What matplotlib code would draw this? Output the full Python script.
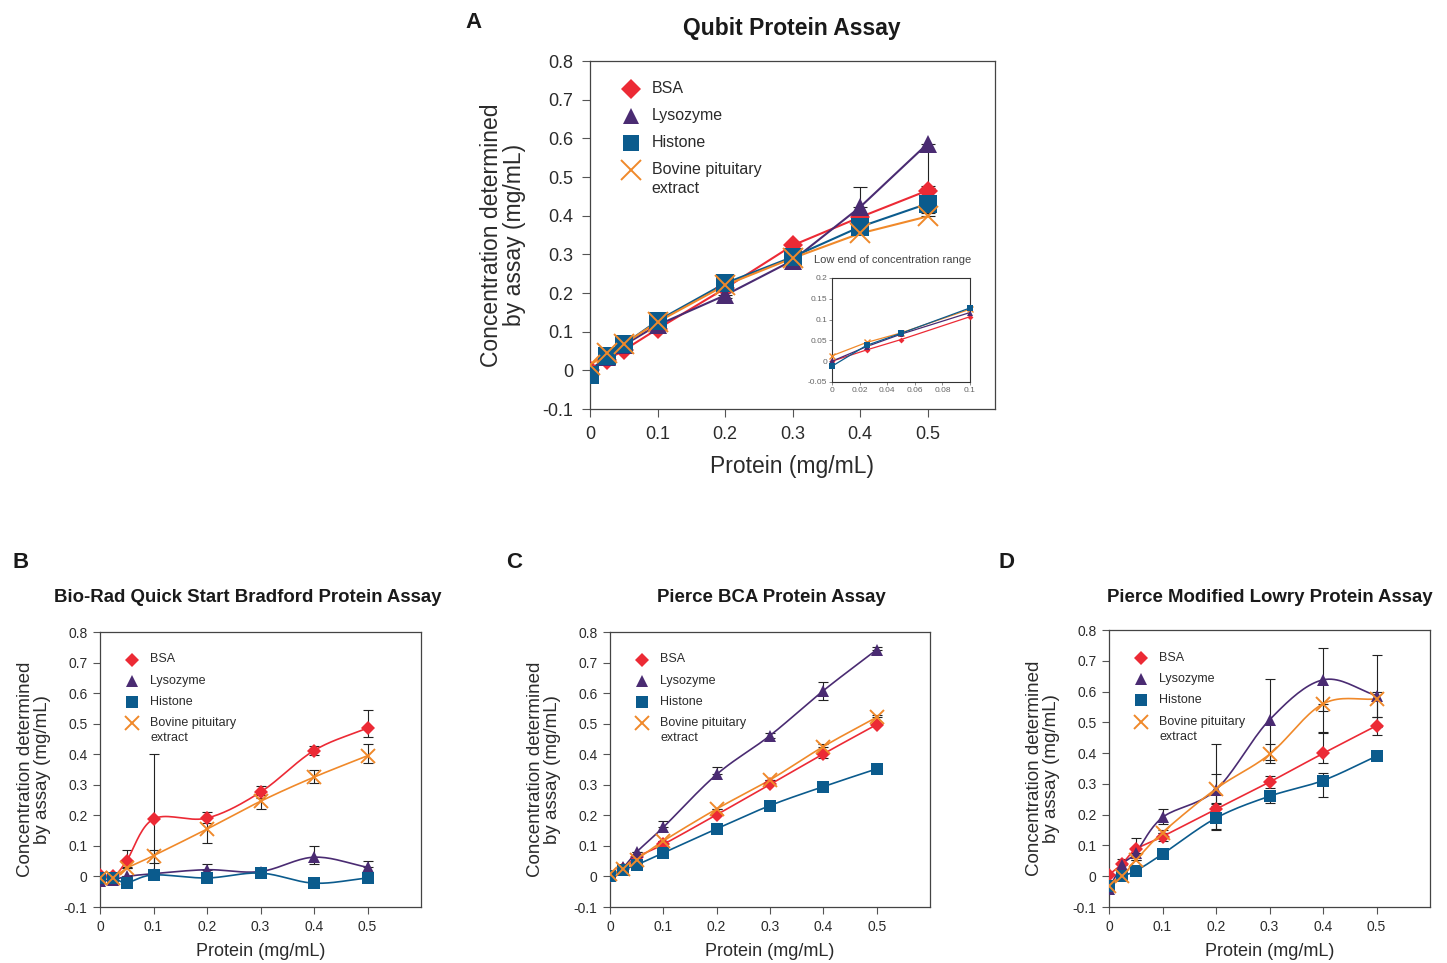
import numpy as np
import matplotlib
matplotlib.use('Agg')
import matplotlib.pyplot as plt

plt.rcParams['font.family'] = ['Liberation Sans', 'DejaVu Sans']

W, H = 1447, 963

# protein amounts loaded (mg/mL)
conc = [0, 0.025, 0.05, 0.1, 0.2, 0.3, 0.4, 0.5]
names = ['BSA', 'Lysozyme', 'Histone', 'Bovine pituitary\nextract']
colors = ['#ec2a35', '#4a2b72', '#0b5b8d', '#f0892a']
markers = ['D', '^', 's', 'x']
msize = {'D': 0.82, '^': 1.0, 's': 1.0, 'x': 1.15}

# ---- A: Qubit
qubit_bsa = [0.0, 0.027, 0.052, 0.107, 0.212, 0.323, 0.396, 0.465]
qubit_lys = [0.0, 0.035, 0.065, 0.117, 0.194, 0.284, 0.422, 0.586]
qubit_his = [-0.012, 0.038, 0.067, 0.128, 0.225, 0.293, 0.371, 0.431]
qubit_bpe = [0.013, 0.045, 0.068, 0.125, 0.220, 0.290, 0.354, 0.398]
# (lower, upper) error
qubit_bsa_err = ([0, 0, 0, 0, 0, 0, 0, 0.0], [0, 0, 0, 0, 0, 0.008, 0, 0.012])
qubit_lys_err = ([0, 0, 0, 0, 0.008, 0, 0, 0.115], [0, 0, 0, 0, 0, 0, 0.052, 0])
qubit_his_err = ([0, 0, 0, 0, 0, 0, 0, 0], [0, 0, 0, 0, 0, 0, 0, 0.01])
qubit_bpe_err = ([0, 0, 0, 0, 0, 0, 0, 0], [0, 0, 0, 0, 0, 0, 0, 0.008])

# ---- B: Bradford
brad_bsa = [0.005, 0.0, 0.052, 0.188, 0.191, 0.276, 0.412, 0.486]
brad_lys = [-0.016, -0.011, 0.0, 0.009, 0.022, 0.016, 0.063, 0.03]
brad_his = [-0.005, -0.005, -0.02, 0.005, -0.005, 0.011, -0.022, -0.005]
brad_bpe = [-0.005, -0.005, 0.027, 0.068, 0.155, 0.246, 0.325, 0.395]
brad_bsa_err = ([0, 0, 0.02, 0.17, 0.016, 0.02, 0.014, 0.03], [0, 0, 0.035, 0.212, 0.019, 0.021, 0.016, 0.06])
brad_lys_err = ([0, 0, 0, 0, 0, 0, 0.023, 0], [0, 0, 0, 0, 0.018, 0, 0.037, 0.021])
brad_his_err = ([0, 0, 0, 0, 0, 0.01, 0.008, 0], [0, 0, 0, 0, 0, 0, 0.0, 0])
brad_bpe_err = ([0, 0, 0, 0.024, 0.044, 0.024, 0.019, 0.025], [0, 0, 0, 0.019, 0.04, 0.02, 0.022, 0.04])

# ---- C: BCA
bca_bsa = [0.003, 0.025, 0.063, 0.105, 0.202, 0.301, 0.401, 0.497]
bca_lys = [0.003, 0.03, 0.08, 0.161, 0.334, 0.461, 0.608, 0.742]
bca_his = [0.003, 0.022, 0.038, 0.077, 0.156, 0.232, 0.294, 0.352]
bca_bpe = [0.007, 0.025, 0.055, 0.116, 0.221, 0.316, 0.425, 0.521]
bca_bsa_err = ([0, 0, 0, 0, 0, 0, 0.012, 0], [0, 0, 0, 0, 0, 0, 0, 0])
bca_lys_err = ([0, 0, 0, 0, 0, 0.008, 0.03, 0], [0, 0, 0, 0.019, 0.024, 0.008, 0.028, 0.009])
bca_his_err = ([0] * 8, [0] * 8)
bca_bpe_err = ([0, 0, 0, 0, 0, 0, 0, 0], [0, 0, 0, 0, 0, 0, 0.01, 0.009])

# ---- D: Modified Lowry
lowry_bsa = [0.005, 0.041, 0.087, 0.129, 0.218, 0.306, 0.399, 0.489]
lowry_lys = [-0.04, 0.038, 0.076, 0.191, 0.281, 0.508, 0.638, 0.587]
lowry_his = [-0.033, 0.0, 0.017, 0.072, 0.189, 0.26, 0.311, 0.39]
lowry_bpe = [-0.033, 0.0, 0.052, 0.142, 0.284, 0.396, 0.56, 0.576]
lowry_bsa_err = ([0, 0, 0, 0.015, 0.02, 0.019, 0.03, 0.031], [0, 0, 0, 0.02, 0.02, 0.019, 0.066, 0.028])
lowry_lys_err = ([0, 0, 0, 0.02, 0.13, 0.13, 0.1, 0.069], [0, 0.017, 0.047, 0.027, 0.15, 0.133, 0.104, 0.133])
lowry_his_err = ([0, 0, 0, 0, 0.035, 0.022, 0.053, 0], [0, 0, 0, 0, 0.04, 0.0, 0.025, 0])
lowry_bpe_err = ([0, 0, 0, 0, 0.05, 0.028, 0.093, 0.09], [0, 0, 0, 0, 0.049, 0.034, 0.0, 0.024])

panels = {
    'A': ([qubit_bsa, qubit_lys, qubit_his, qubit_bpe],
          [qubit_bsa_err, qubit_lys_err, qubit_his_err, qubit_bpe_err]),
    'B': ([brad_bsa, brad_lys, brad_his, brad_bpe],
          [brad_bsa_err, brad_lys_err, brad_his_err, brad_bpe_err]),
    'C': ([bca_bsa, bca_lys, bca_his, bca_bpe],
          [bca_bsa_err, bca_lys_err, bca_his_err, bca_bpe_err]),
    'D': ([lowry_bsa, lowry_lys, lowry_his, lowry_bpe],
          [lowry_bsa_err, lowry_lys_err, lowry_his_err, lowry_bpe_err]),
}
titles = {'A': 'Qubit Protein Assay',
          'B': 'Bio-Rad Quick Start Bradford Protein Assay',
          'C': 'Pierce BCA Protein Assay',
          'D': 'Pierce Modified Lowry Protein Assay'}
smooth = {'A': False, 'B': True, 'C': True, 'D': True}

TXT = '#2b2b2b'


def px_axes(fig, l, t, r, b):
    return fig.add_axes([l / W, (H - b) / H, (r - l) / W, (b - t) / H])


def catmull(x, y, n=20):
    # smoothed line through the points (like a spreadsheet "smoothed line")
    x = np.asarray(x, float)
    y = np.asarray(y, float)
    px = np.concatenate([[2 * x[0] - x[1]], x, [2 * x[-1] - x[-2]]])
    py = np.concatenate([[2 * y[0] - y[1]], y, [2 * y[-1] - y[-2]]])
    xs, ys = [], []
    t = np.linspace(0, 1, n)
    for i in range(1, len(px) - 2):
        for p, out in ((px[i - 1:i + 3], xs), (py[i - 1:i + 3], ys)):
            a, b, c, d = p
            out.extend(0.5 * (2 * b + (-a + c) * t + (2 * a - 5 * b + 4 * c - d) * t ** 2
                              + (-a + 3 * b - 3 * c + d) * t ** 3))
    return xs, ys


def style_axes(ax, fs, ticklen=5, pad=4):
    ax.set_xlim(0, 0.6)
    ax.set_ylim(-0.1, 0.8)
    ax.set_xticks([0, 0.1, 0.2, 0.3, 0.4, 0.5])
    ax.set_xticklabels(['0', '0.1', '0.2', '0.3', '0.4', '0.5'])
    ax.set_yticks(np.arange(-0.1, 0.81, 0.1))
    ax.set_yticklabels(['-0.1', '0', '0.1', '0.2', '0.3', '0.4', '0.5', '0.6', '0.7', '0.8'])
    ax.tick_params(direction='out', length=ticklen, width=0.8, labelsize=fs,
                   colors='#555555', labelcolor=TXT, top=False, right=False, pad=pad)
    for s in ax.spines.values():
        s.set_linewidth(0.9)
        s.set_color('#444444')


def draw_series(ax, ys, errs, ms, lw, smooth_line, cap):
    for i in range(4):
        y = ys[i]
        lo, hi = errs[i]
        yerr = np.array([lo, hi])
        if yerr.any():
            ax.errorbar(conc, y, yerr=yerr, fmt='none', ecolor='#222222',
                        elinewidth=0.8, capsize=cap, capthick=0.8, zorder=2)
        if smooth_line:
            sx, sy = catmull(conc, y)
            ax.plot(sx, sy, color=colors[i], lw=lw, zorder=3)
        else:
            ax.plot(conc, y, color=colors[i], lw=lw, zorder=3)
        m = markers[i]
        ax.plot(conc, y, ls='none', marker=m, color=colors[i],
                ms=ms * msize[m], mew=1.4 if m == 'x' else 0, zorder=4)


def draw_legend(ax, x0, y0, dy, fs, ms, tx, gap):
    for i in range(4):
        m = markers[i]
        yy = y0 - i * dy
        ax.plot([x0], [yy], transform=ax.transAxes, ls='none',
                marker=m, color=colors[i], ms=ms * msize[m],
                mew=1.4 if m == 'x' else 0, clip_on=False)
        for k, line in enumerate(names[i].split('\n')):
            ax.text(x0 + tx, yy - k * gap, line, transform=ax.transAxes,
                    fontsize=fs, color=TXT, va='center')


fig = plt.figure(figsize=(W / 100, H / 100), dpi=100)

# ---------- panel A ----------
ax = px_axes(fig, 590, 61, 995, 409)
style_axes(ax, 13, ticklen=6, pad=6)
ys, errs = panels['A']
draw_series(ax, ys, errs, ms=13, lw=1.5, smooth_line=False, cap=5)
draw_legend(ax, 0.1, 0.92, 0.0776, 11.5, 12, 0.052, 0.055)
ax.set_xlabel('Protein (mg/mL)', fontsize=16.5, color=TXT, labelpad=9)
ax.set_ylabel('Concentration determined\nby assay (mg/mL)', fontsize=16.5,
              color=TXT, labelpad=12, linespacing=1.0)
fig.text(792 / W, 1 - 28 / H, titles['A'], fontsize=16.5, fontweight='bold',
         ha='center', va='center', color='#1a1a1a')
fig.text(474 / W, 1 - 22 / H, 'A', fontsize=16, fontweight='bold',
         ha='center', va='center', color='#1a1a1a')

# inset
ins = px_axes(fig, 832, 278, 970, 382)
ins.set_xlim(0, 0.1)
ins.set_ylim(-0.05, 0.2)
ins.set_xticks([0, 0.02, 0.04, 0.06, 0.08, 0.1])
ins.set_xticklabels(['0', '0.02', '0.04', '0.06', '0.08', '0.1'])
ins.set_yticks([-0.05, 0, 0.05, 0.1, 0.15, 0.2])
ins.set_yticklabels(['-0.05', '0', '0.05', '0.1', '0.15', '0.2'])
ins.tick_params(direction='out', length=2, width=0.6, labelsize=6,
                colors='#777777', labelcolor='#666666', pad=1.5)
for s in ins.spines.values():
    s.set_linewidth(0.8)
    s.set_color('#333333')
for i in range(4):
    y = ys[i][:4]
    m = markers[i]
    ins.plot(conc[:4], y, color=colors[i], lw=0.9, marker=m,
             ms=4.5 if m != 'D' else 3, mew=1.0 if m == 'x' else 0,
             clip_on=False, zorder=3 + (i == 2))
ins.text(0.44, 1.17, 'Low end of concentration range', transform=ins.transAxes,
         fontsize=8, color='#444444', ha='center', va='center')

# ---------- panels B, C, D ----------
rects = {'B': (100, 632, 421, 907), 'C': (610, 632, 930, 907), 'D': (1109, 630, 1430, 907)}
title_x = {'B': 248, 'C': 771, 'D': 1270}
letter_x = {'B': 21, 'C': 514, 'D': 1007}
for key in ['B', 'C', 'D']:
    l, t, r, b = rects[key]
    ax = px_axes(fig, l, t, r, b)
    style_axes(ax, 10, pad=4)
    ys, errs = panels[key]
    draw_series(ax, ys, errs, ms=9, lw=1.2, smooth_line=smooth[key], cap=3.5)
    draw_legend(ax, 0.1, 0.9, 0.077, 9, 9, 0.057, 0.055)
    ax.set_xlabel('Protein (mg/mL)', fontsize=13, color=TXT, labelpad=7)
    ax.set_ylabel('Concentration determined\nby assay (mg/mL)', fontsize=13.5,
                  color=TXT, labelpad=9, linespacing=1.0)
    fig.text(title_x[key] / W, 1 - 597 / H, titles[key], fontsize=13.4,
             fontweight='bold', ha='center', va='center', color='#1a1a1a')
    fig.text(letter_x[key] / W, 1 - 563 / H, key, fontsize=16, fontweight='bold',
             ha='center', va='center', color='#1a1a1a')

fig.savefig('out.png', dpi=100)
